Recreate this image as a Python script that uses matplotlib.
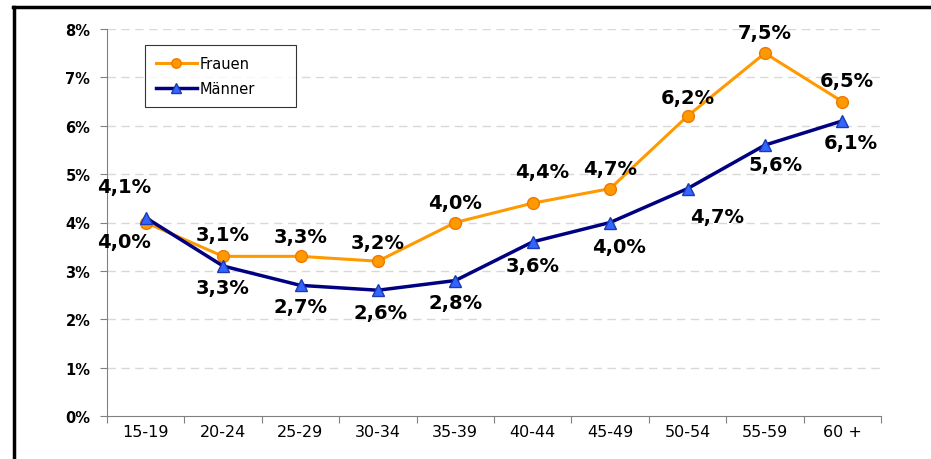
import numpy as np
import matplotlib
matplotlib.use("Agg")
import matplotlib.pyplot as plt
from matplotlib.lines import Line2D

plt.rcParams['font.family'] = ['DejaVu Sans']

# data
altersgruppen = ['15-19', '20-24', '25-29', '30-34', '35-39',
                 '40-44', '45-49', '50-54', '55-59', '60 +']
frauen = [4.0, 3.3, 3.3, 3.2, 4.0, 4.4, 4.7, 6.2, 7.5, 6.5]
maenner = [4.1, 3.1, 2.7, 2.6, 2.8, 3.6, 4.0, 4.7, 5.6, 6.1]
# Beschriftungen wie im Original
frauen_txt = ['4,0%', '3,1%', '3,3%', '3,2%', '4,0%', '4,4%', '4,7%', '6,2%', '7,5%', '6,5%']
maenner_txt = ['4,1%', '3,3%', '2,7%', '2,6%', '2,8%', '3,6%', '4,0%', '4,7%', '5,6%', '6,1%']
yticks = [0, 1, 2, 3, 4, 5, 6, 7, 8]

# label offsets in pixels
off_f = [(-22, -19), (0, 22), (0, 20), (0, 19), (0, 20), (9, 32), (0, 20), (0, 19), (0, 21), (5, 21)]
off_m = [(-22, 31), (0, -21), (0, -21), (3, -22), (0, -22), (0, -24), (9, -24), (30, -28), (11, -19), (9, -22)]

fig = plt.figure(figsize=(9.31, 4.60), dpi=100)
ax = fig.add_axes([107/931, 43/460, 774/931, 387/460])

x = np.arange(len(altersgruppen)) + 0.5
ax.plot(x, frauen, color='#FF9900', lw=2.2, marker='o', ms=8.5,
        mfc='#FF9900', mec='#F07800', label='Frauen', zorder=3)
ax.plot(x, maenner, color='#000080', lw=2.5, marker='^', ms=9,
        mfc='#3366FF', mec='#1a3ab0', label='Männer', zorder=4)

for xi, v, t, o in zip(x, frauen, frauen_txt, off_f):
    ax.annotate(t, (xi, v), xytext=o, textcoords='offset pixels',
                ha='center', va='center', fontsize=14, fontweight='bold')
for xi, v, t, o in zip(x, maenner, maenner_txt, off_m):
    ax.annotate(t, (xi, v), xytext=o, textcoords='offset pixels',
                ha='center', va='center', fontsize=14, fontweight='bold')

ax.set_xlim(0, len(altersgruppen))
ax.set_ylim(0, 8)
ax.set_yticks(yticks)
ax.set_yticklabels([f'{t}%' for t in yticks], fontweight='bold', fontsize=10.5)
ax.set_xticks(np.arange(len(altersgruppen) + 1))
ax.set_xticklabels([])
ax.set_xticks(x, minor=True)
ax.set_xticklabels(altersgruppen, minor=True, fontsize=11.5)
ax.tick_params(axis='x', which='minor', length=0, pad=6)
ax.tick_params(axis='x', which='major', length=5, color='#808080')
ax.tick_params(axis='y', length=5, color='#808080', pad=7)

for y in yticks[1:]:
    ax.axhline(y, color='#d8d8d8', lw=1, ls=(0, (6, 4)), zorder=0)

for s in ['top', 'right']:
    ax.spines[s].set_visible(False)
for s in ['left', 'bottom']:
    ax.spines[s].set_color('#808080')

leg = ax.legend(loc='upper left', mode='expand',
                bbox_to_anchor=(145/931, 1 - 103/460, 151/931, 57/460),
                bbox_transform=fig.transFigure, fontsize=10.5, frameon=True,
                fancybox=False, edgecolor='black', handlelength=2.8,
                borderpad=0.75, labelspacing=0.7, handletextpad=0.2,
                borderaxespad=0, markerscale=0.8)
leg.get_frame().set_linewidth(0.8)

# Rahmen links und oben
fig.add_artist(Line2D([14/931, 14/931], [0, 1 - 8/460], color='black', lw=2.5,
                      transform=fig.transFigure))
fig.add_artist(Line2D([13/931, 1], [1 - 8/460, 1 - 8/460], color='black', lw=2.5,
                      transform=fig.transFigure))

fig.savefig('out.png', dpi=100)
